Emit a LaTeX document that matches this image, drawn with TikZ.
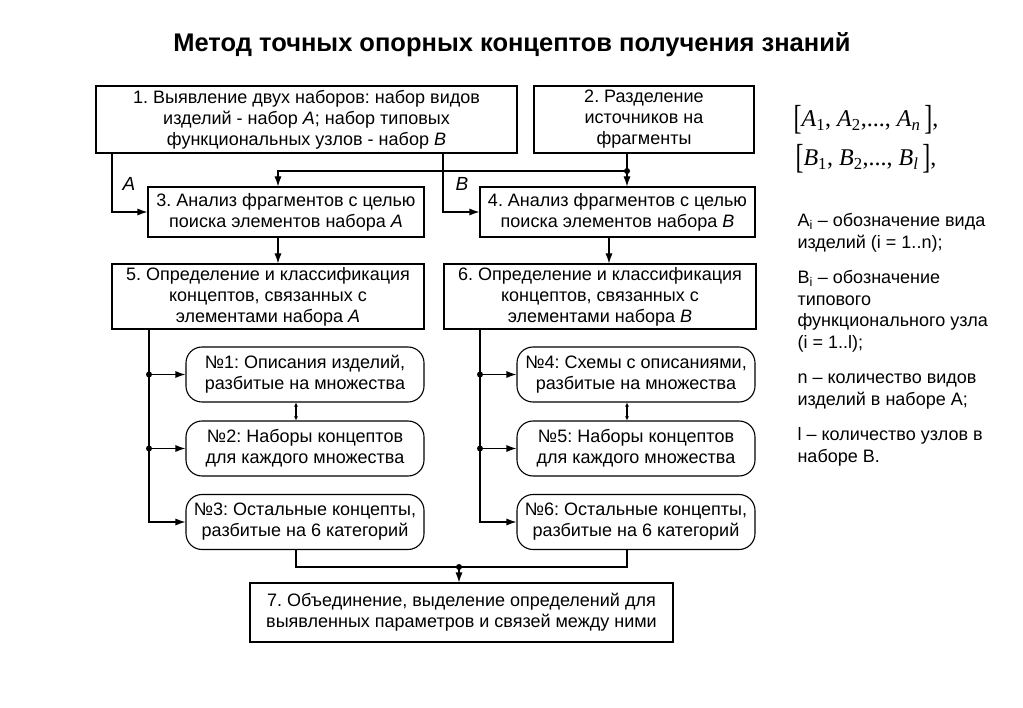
\documentclass[tikz,border=0pt]{standalone}
\usepackage{fontspec}
\setmainfont{Liberation Sans}
\newfontfamily\timesfont{Liberation Serif}
\usetikzlibrary{positioning,arrows.meta}
\frenchspacing
\newcommand{\tallbr}[1]{\raisebox{-3pt}{\scalebox{1}[1.45]{#1}}}

\begin{document}
\begin{tikzpicture}[x=1pt,y=-1pt,line width=1.1pt,>={Latex[length=10pt,width=7pt]},
  every node/.style={font=\fontsize{18}{21}\selectfont},
  stagebox/.style={draw,align=center,inner sep=0pt},
  resultbox/.style={draw,rounded corners=16pt,align=center,inner sep=0pt,minimum width=238pt,minimum height=55pt},
  branch/.style={circle,fill,inner sep=0pt,minimum size=6pt},
  link/.style={<->,>={Latex[length=4pt,width=4pt]}},
  setlabel/.style={font=\fontsize{19}{21}\selectfont\itshape},
  formula/.style={font=\fontsize{24}{28}\selectfont\timesfont},
  notes/.style={align=left,anchor=north west,inner sep=0pt,font=\fontsize{18}{21.5}\selectfont}]
\useasboundingbox (0,0) rectangle (1023,708);
\node[font=\fontsize{25.5}{30}\selectfont\bfseries] (title) at (512,45) {Метод точных опорных концептов получения знаний};
% stages
\node[stagebox,minimum width=421pt,minimum height=67pt] (stage1) at (306.5,119.5) {1. Выявление двух наборов: набор видов\\ изделий - набор \textit{A}; набор типовых\\ функциональных узлов - набор \textit{B}};
\node[stagebox,minimum width=220pt,minimum height=67pt] (stage2) at (644,119.5) {2. Разделение\\ источников на\\ фрагменты};
\node[stagebox,minimum width=276pt,minimum height=50pt] (stage3) at (286,212) {3. Анализ фрагментов с целью\\ поиска элементов набора \textit{A}};
\node[stagebox,minimum width=275pt,minimum height=50pt] (stage4) at (617.5,212) {4. Анализ фрагментов с целью\\ поиска элементов набора \textit{B}};
\node[stagebox,minimum width=312pt,minimum height=65pt] (stage5) at (268,296.5) {5. Определение и классификация\\ концептов, связанных с\\ элементами набора \textit{A}};
\node[stagebox,minimum width=312pt,minimum height=65pt] (stage6) at (600,296.5) {6. Определение и классификация\\ концептов, связанных с\\ элементами набора \textit{B}};
\node[stagebox,minimum width=423pt,minimum height=59pt] (stage7) at (461.5,612.5) {7. Объединение, выделение определений для\\ выявленных параметров и связей между ними};
% results
\node[resultbox] (res1) at (305,374.5) {№1: Описания изделий,\\ разбитые на множества};
\node[resultbox] (res2) at (305,448.5) {№2: Наборы концептов\\ для каждого множества};
\node[resultbox] (res3) at (305,522) {№3: Остальные концепты,\\ разбитые на 6 категорий};
\node[resultbox] (res4) at (636,374.5) {№4: Схемы с описаниями,\\ разбитые на множества};
\node[resultbox] (res5) at (636,448.5) {№5: Наборы концептов\\ для каждого множества};
\node[resultbox] (res6) at (636,522) {№6: Остальные концепты,\\ разбитые на 6 категорий};
% helper coordinates
\coordinate (tapA) at (112,0);
\coordinate (tapB) at (443,0);
\coordinate (colA) at (278,0);
\coordinate (colB) at (609,0);
\coordinate (railA) at (149,0);
\coordinate (railB) at (480,0);
\coordinate (linkA) at (296,0);
\coordinate (linkB) at (627,0);
\coordinate (split) at (627,171);
\coordinate (merge) at (459,567);
% connectors
\draw[->] (stage1.south -| tapA) |- (stage3.west);
\draw[->] (stage1.south -| tapB) |- (stage4.west);
\node[setlabel] (labelA) at (129,184) {A};
\node[setlabel] (labelB) at (462,184) {B};
\draw[->] (stage2.south -| linkB) -- (stage4.north -| linkB);
\draw[->] (split) -| (stage3.north -| colA);
\node[branch] (dotsplit) at (split) {};
\draw[->] (stage3.south -| colA) -- (stage5.north -| colA);
\draw[->] (stage4.south -| colB) -- (stage6.north -| colB);
\draw[->] (stage5.south -| railA) |- (res3.west);
\draw[->] (res1.west -| railA) -- (res1.west);
\draw[->] (res2.west -| railA) -- (res2.west);
\node[branch] (dotA1) at (res1.west -| railA) {};
\node[branch] (dotA2) at (res2.west -| railA) {};
\draw[->] (stage6.south -| railB) |- (res6.west);
\draw[->] (res4.west -| railB) -- (res4.west);
\draw[->] (res5.west -| railB) -- (res5.west);
\node[branch] (dotB1) at (res4.west -| railB) {};
\node[branch] (dotB2) at (res5.west -| railB) {};
\draw[link] (res1.south -| linkA) -- (res2.north -| linkA);
\draw[link] (res4.south -| linkB) -- (res5.north -| linkB);
\draw (res3.south -| linkA) |- (merge);
\draw (res6.south -| linkB) |- (merge);
\draw[->] (merge) -- (stage7.north -| merge);
\node[branch] (dotmerge) at (merge) {};
% legend
\node[formula] (setsA) at (866,120) {\tallbr{[}\textit{A}\textsubscript{1}, \textit{A}\textsubscript{2},..., \textit{A}\textsubscript{\textit{n}}\,\tallbr{]},};
\node[formula] (setsB) at (866,159) {\tallbr{[}\textit{B}\textsubscript{1}, \textit{B}\textsubscript{2},..., \textit{B}\textsubscript{\textit{l}}\,\tallbr{]},};
\node[notes] (legend) at (797,213) {A\textsubscript{i} – обозначение вида\\ изделий (i = 1..n);\\[14pt] B\textsubscript{i} – обозначение\\ типового\\ функционального узла\\ (i = 1..l);\\[14pt] n – количество видов\\ изделий в наборе А;\\[14pt] l – количество узлов в\\ наборе В.};
\end{tikzpicture}
\end{document}
